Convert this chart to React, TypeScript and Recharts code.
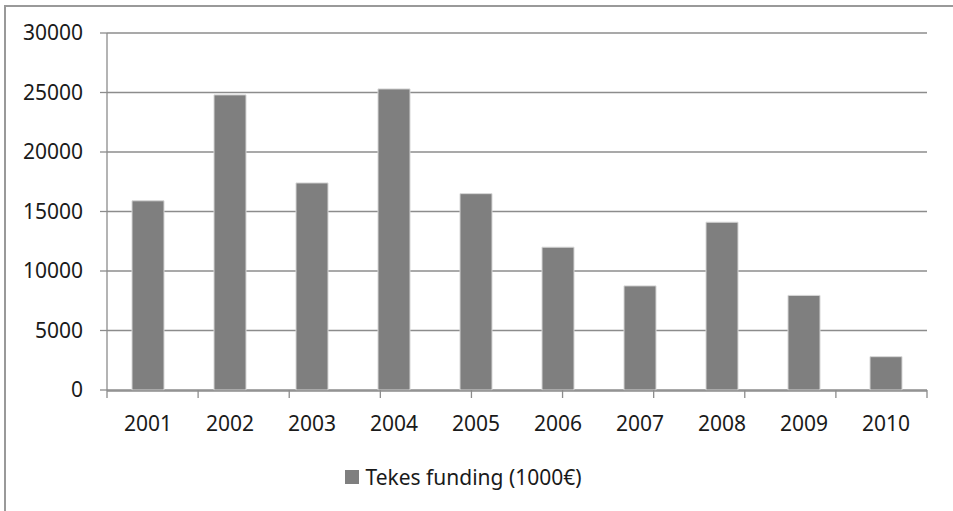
import React from "react";
import { BarChart, Bar, XAxis, YAxis, CartesianGrid, Legend } from "recharts";

const years = ["2001", "2002", "2003", "2004", "2005", "2006", "2007", "2008", "2009", "2010"];
const funding = [15900, 24800, 17400, 25300, 16500, 12000, 8750, 14100, 7950, 2800];
const yTicks = [0, 5000, 10000, 15000, 20000, 25000, 30000];
const seriesName = "Tekes funding (1000€)";

const data = years.map((y, i) => ({ year: y, idx: i, value: funding[i] }));
const boundaryTicks = years.map((_, i) => i).concat([years.length]);

const FONT = "'Noto Sans', sans-serif";
const GRID = "#8c8c8c";
const BAR = "#7f7f7f";

const LegendContent = () => (
  <div
    style={{
      height: 40,
      display: "flex",
      alignItems: "center",
      justifyContent: "center",
      fontFamily: FONT,
      fontSize: 21,
      color: "#1a1a1a",
    }}
  >
    <span style={{ display: "inline-block", width: 14, height: 14, background: BAR, marginRight: 6 }} />
    <span>{seriesName}</span>
  </div>
);

const EmptyTick = () => <g />;

export default function App() {
  return (
    <div style={{ position: "fixed", left: 0, top: 0, width: 953, height: 511, overflow: "hidden", background: "#fff" }}>
      <div style={{ position: "absolute", left: 0, top: 0 }}>
        <BarChart
          width={953}
          height={511}
          data={data}
          margin={{ top: 33, right: 26, bottom: 14, left: 0 }}
        >
          <CartesianGrid horizontal vertical={false} stroke={GRID} strokeWidth={1.3} />
          <XAxis
            xAxisId="bounds"
            type="number"
            domain={[0, years.length]}
            ticks={boundaryTicks}
            tick={<EmptyTick />}
            tickSize={8}
            tickLine={{ stroke: GRID, strokeWidth: 1.3 }}
            axisLine={false}
            height={1}
            interval={0}
            allowDataOverflow
          />
          <XAxis
            xAxisId="cat"
            dataKey="year"
            height={66}
            tickSize={8}
            tickMargin={17}
            tickLine={false}
            axisLine={{ stroke: GRID, strokeWidth: 1.3 }}
            tick={{ fontFamily: FONT, fontSize: 21, fill: "#1a1a1a" }}
            interval={0}
          />
          <YAxis
            width={107}
            domain={[0, 30000]}
            ticks={yTicks}
            interval={0}
            tickSize={7}
            tickMargin={17}
            tickLine={{ stroke: GRID, strokeWidth: 1.3 }}
            axisLine={{ stroke: GRID, strokeWidth: 1.3 }}
            tick={{ fontFamily: FONT, fontSize: 21, fill: "#1a1a1a" }}
          />
          <Legend verticalAlign="bottom" content={<LegendContent />} />
          <Bar
            xAxisId="cat"
            dataKey="value"
            name={seriesName}
            fill={BAR}
            stroke="#d6d6d6"
            strokeWidth={1}
            barSize={32}
            isAnimationActive={false}
          />
        </BarChart>
      </div>
      <div
        style={{
          position: "absolute",
          left: 4,
          top: 5,
          width: 960,
          height: 2,
          background: "#999999",
          zIndex: 5,
        }}
      />
      <div
        style={{
          position: "absolute",
          left: 4,
          top: 5,
          width: 2,
          height: 520,
          background: "#999999",
          zIndex: 5,
        }}
      />
    </div>
  );
}
